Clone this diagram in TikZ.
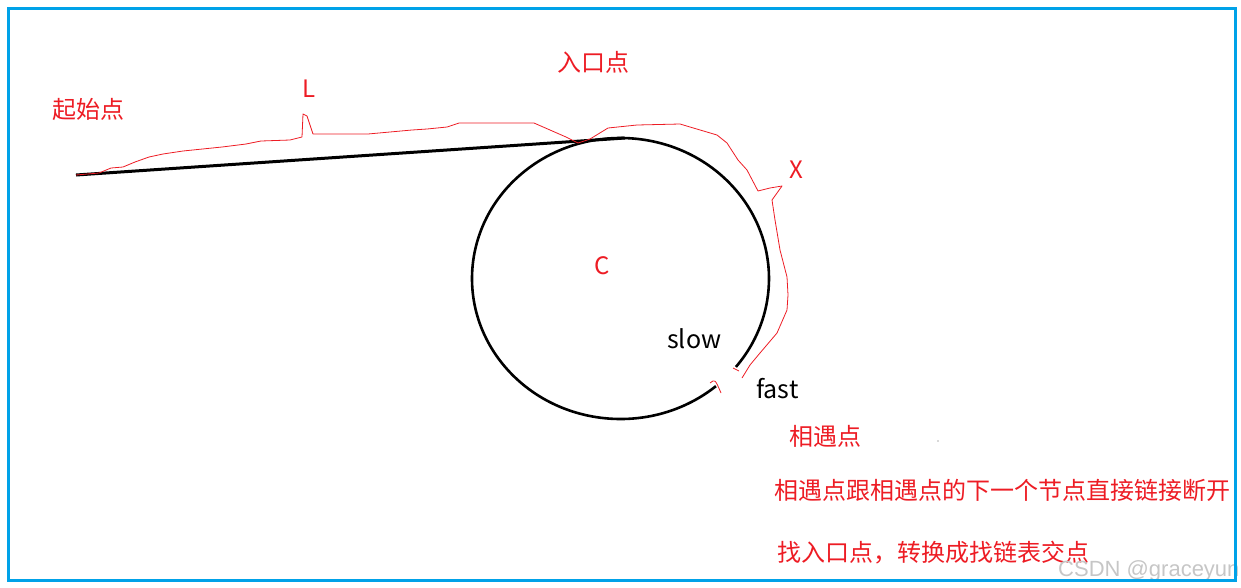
\documentclass[tikz,border=0pt]{standalone}
\usepackage{fontspec}
\setmainfont{Noto Sans CJK SC}
\newfontfamily\wmfont{Liberation Sans}
\definecolor{paintred}{HTML}{ED1C24}
\definecolor{paintblue}{HTML}{00A2E8}

\begin{document}
\begin{tikzpicture}[x=1pt,y=-1pt,
  redlabel/.style={inner sep=0pt,text=paintred,font=\fontsize{24}{28}\selectfont},
  blacklabel/.style={inner sep=0pt,font=\fontsize{25}{30}\selectfont},
  trace/.style={paintred,line width=0.8pt,line join=round},
  listline/.style={black,line width=3pt},
  ringline/.style={black,line width=2.6pt}]
  \useasboundingbox (0,0) rectangle (1241,587);

  % ===== Points =====
  \coordinate (head) at (76,175);     % start of list
  \coordinate (entry) at (578,143);   % entry into the loop
  \coordinate (linkend) at (625,138);
  \coordinate (ringc) at (620.5,278.5);
  \coordinate (tail) at (742,378);

  % ===== List and loop =====
  \draw[listline] (head) -- (linkend);
  \draw[ringline] (ringc) ++(50:148.5 and 140.5)
    arc[start angle=50,end angle=399,x radius=148.5,y radius=140.5];

  % --- red trace: L, then X ---
  \draw[trace] (head) -- (99,173) -- (111,168) -- (123,167) -- (135,162)
    -- (149,157) -- (163,154) -- (183,151) -- (222,147) -- (246,144)
    -- (261,141) -- (290,140) -- (302,137) -- (303,114) -- (307,116)
    -- (311,128) -- (313,134) -- (340,134) -- (368,134) -- (412,130)
    -- (427,129) -- (447,127) -- (459,123) -- (534,123) -- (550,130)
    -- (566,137) -- (entry) -- (590,139) -- (608,128) -- (637,125)
    -- (680,124) -- (690,127) -- (717,135) -- (727,143) -- (738,160)
    -- (747,170) -- (758,191) -- (770,188) -- (782,186) -- (772,200)
    -- (775,220) -- (780,250) -- (787,277) -- (788,295) -- (787,310)
    -- (777,333) -- (760,353) -- (750,365) -- (tail);
  \draw[trace] (710,383) .. controls (715,379) .. (721,393);
  \draw[trace] (733,368) -- (739,371);
  \fill[gray!60] (938,441) circle (0.8);

  % --- Labels ---
  \node[redlabel] (startlbl) at (88,109) {起始点};
  \node[redlabel] (llbl) at (309,89) {L};
  \node[redlabel] (entrylbl) at (593,62) {入口点};
  \node[redlabel] (xlbl) at (796,170) {X};
  \node[redlabel] (clbl) at (602,266) {C};
  \node[blacklabel,anchor=base west] (slowlbl) at (667,348) {slow};
  \node[blacklabel,anchor=base west] (fastlbl) at (756,398) {fast};
  \node[redlabel,anchor=west] (meetlbl) at (789,436) {相遇点};
  \node[redlabel,anchor=west] (cutlbl) at (774,490) {相遇点跟相遇点的下一个节点直接链接断开};
  \node[redlabel,anchor=west] (findlbl) at (777,553) {找入口点，转换成找链表交点};

  % watermark
  \node[anchor=base west,inner sep=0pt,text=gray!45,font=\wmfont\fontsize{22}{26}\selectfont] (wmark) at (1058,576) {CSDN @graceyun};

  % Frame
  \draw[paintblue,line width=3pt] (8.5,8.5) rectangle (1235.5,580);
\end{tikzpicture}
\end{document}
